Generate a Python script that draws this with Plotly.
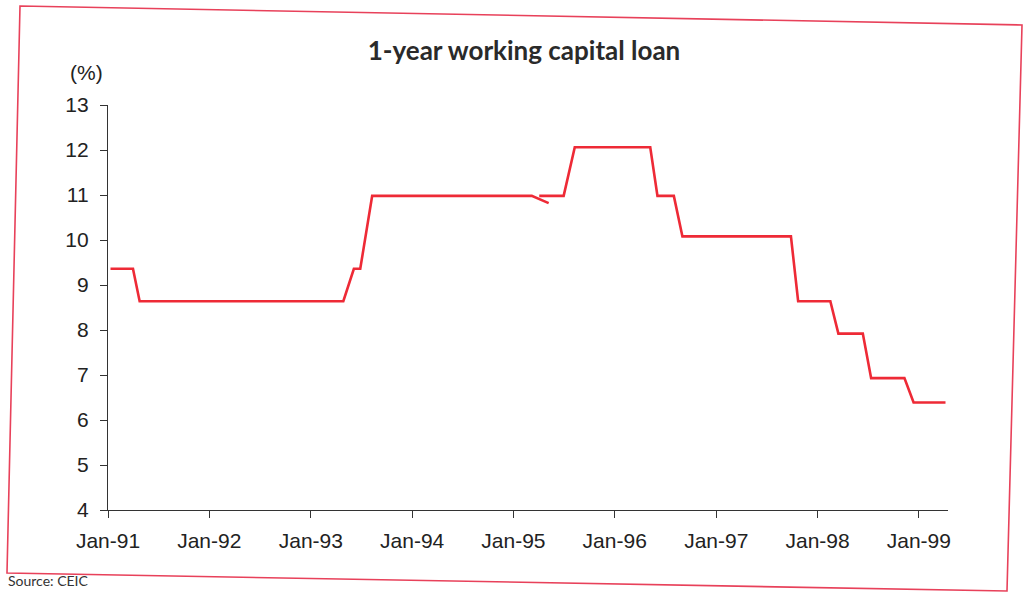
import plotly.graph_objects as go

# 1-year working capital loan rate (%), step changes drawn as month-to-month moves
dates = [
    "1991-01-10", "1991-04-01", "1991-04-25", "1993-04-28", "1993-06-05",
    "1993-06-28", "1993-08-10", "1995-03-08", "1995-05-08", None,
    "1995-04-04", "1995-07-01", "1995-08-10", "1996-05-08", "1996-06-03",
    "1996-08-01", "1996-09-01", "1997-09-27", "1997-10-23", "1998-02-16",
    "1998-03-17", "1998-06-13", "1998-07-13", "1998-11-10", "1998-12-13",
    "1999-04-07",
]
rates = [
    9.36, 9.36, 8.64, 8.64, 9.36,
    9.36, 10.98, 10.98, 10.82, None,
    10.98, 10.98, 12.06, 12.06, 10.98,
    10.98, 10.08, 10.08, 8.64, 8.64,
    7.92, 7.92, 6.93, 6.93, 6.39,
    6.39,
]

tick_dates = ["1991-01-01", "1992-01-01", "1993-01-01", "1994-01-01", "1995-01-01",
              "1996-01-01", "1997-01-01", "1998-01-01", "1999-01-01"]
tick_labels = ["Jan-91", "Jan-92", "Jan-93", "Jan-94", "Jan-95",
               "Jan-96", "Jan-97", "Jan-98", "Jan-99"]
y_ticks = [4, 5, 6, 7, 8, 9, 10, 11, 12, 13]

W, H = 1027, 592
L, R, T, B = 108, 79, 105, 82
PW, PH = W - L - R, H - T - B


def px(x, y):
    """Page pixel -> paper coordinates."""
    return (x - L) / PW, (H - B - y) / PH


# Outer frame around the exhibit (slightly skewed page)
corners = [(20, 6), (1022, 25), (1007, 591), (7, 573)]
pts = [px(x, y) for x, y in corners]
frame_path = "M " + " L ".join(f"{a:.5f},{b:.5f}" for a, b in pts) + " Z"

fig = go.Figure()
fig.add_trace(go.Scatter(
    x=dates, y=rates, mode="lines",
    line=dict(color="#ee2a36", width=2.6),
    connectgaps=False, hoverinfo="x+y",
))

axis_font = dict(family="Liberation Sans, Arial, sans-serif", size=21, color="#222")

fig.update_layout(
    width=W, height=H,
    margin=dict(l=L, r=R, t=T, b=B),
    paper_bgcolor="white", plot_bgcolor="white",
    showlegend=False,
    xaxis=dict(
        range=["1991-01-01", "1999-04-16"],
        tickvals=tick_dates, ticktext=tick_labels,
        ticks="outside", ticklen=7, tickwidth=1.2, tickcolor="#333",
        showline=True, linecolor="#333", linewidth=1.3,
        showgrid=False, zeroline=False,
        tickfont=axis_font, ticklabelstandoff=5,
    ),
    yaxis=dict(
        range=[4, 13],
        tickvals=y_ticks,
        ticks="outside", ticklen=7, tickwidth=1.2, tickcolor="#333",
        showline=True, linecolor="#333", linewidth=1.3,
        showgrid=False, zeroline=False,
        tickfont=axis_font, ticklabelstandoff=7,
    ),
    title=dict(
        text="<b>1-year working capital loan</b>",
        font=dict(family="Lato, sans-serif", size=26, color="#2a2a2a"),
        x=524 / W, xanchor="center", xref="container",
        y=1 - 51 / H, yanchor="middle", yref="container",
    ),
    shapes=[dict(
        type="path", path=frame_path, xref="paper", yref="paper",
        line=dict(color="#e8415a", width=1.6), fillcolor="rgba(0,0,0,0)",
        layer="below",
    )],
    annotations=[
        dict(text="(%)", xref="paper", yref="paper",
             x=px(86, 72)[0], y=px(86, 72)[1], xanchor="center", yanchor="middle",
             showarrow=False, font=axis_font),
        dict(text="Source: CEIC", xref="paper", yref="paper",
             x=px(6, 591)[0], y=px(6, 591)[1], xanchor="left", yanchor="bottom",
             showarrow=False,
             font=dict(family="Lato, sans-serif", size=14, color="#333")),
    ],
)

fig.write_html("out.html")
